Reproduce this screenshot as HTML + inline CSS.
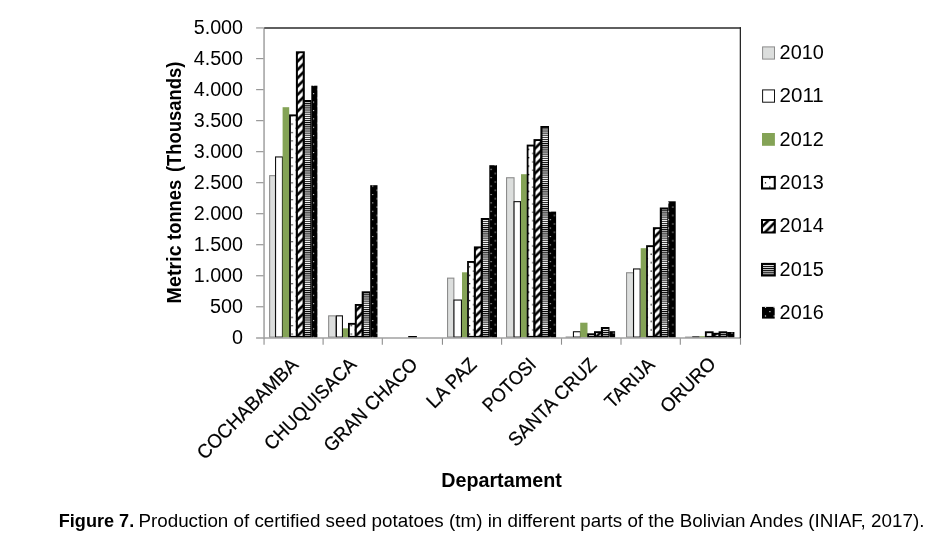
<!DOCTYPE html>
<html lang="en">
<head>
<meta charset="utf-8">
<title>Figure 7. Production of certified seed potatoes</title>
<style>
html,body{margin:0;padding:0;background:#fff;}
body{width:937px;height:536px;overflow:hidden;position:relative;font-family:"Liberation Sans",Arial,sans-serif;}
svg{position:absolute;left:0;top:0;display:block;}
text{font-family:"Liberation Sans",Arial,sans-serif;fill:#000;}
.b{font-weight:bold;fill:#000;}
</style>
</head>
<body>
<svg width="937" height="536" viewBox="0 0 937 536">
<defs>
<pattern id="p13" patternUnits="userSpaceOnUse" x="291.43" y="207.48" width="8.45" height="8.4">
<rect width="8.45" height="8.4" fill="#fff"/>
<rect x="0" y="0" width="1.25" height="1.25" fill="#000"/>
<rect x="4.225" y="4.2" width="1.25" height="1.25" fill="#000"/>
</pattern>
<pattern id="p16" patternUnits="userSpaceOnUse" x="372.28000000000003" y="193.98" width="8.45" height="8.4">
<rect width="8.45" height="8.4" fill="#000"/>
<rect x="0" y="0" width="1.05" height="1.05" fill="#e8e8e8"/>
<rect x="4.225" y="4.2" width="1.05" height="1.05" fill="#e8e8e8"/>
</pattern>
<pattern id="p14" patternUnits="userSpaceOnUse" x="1.21" y="0" width="8.32" height="8.32">
<rect width="8.32" height="8.32" fill="#fff"/>
<path d="M-2.08,2.08 L2.08,-2.08 M-2.08,10.4 L10.4,-2.08 M6.24,10.4 L10.4,6.24" stroke="#000" stroke-width="2.65" fill="none"/>
</pattern>
<pattern id="p15" patternUnits="userSpaceOnUse" x="0" y="0.3" width="8" height="2.1">
<rect width="8" height="2.1" fill="#fff"/>
<rect width="8" height="1.05" fill="#000"/>
</pattern>
<pattern id="p14L" patternUnits="userSpaceOnUse" x="6.1" y="0" width="8.4" height="8.4">
<rect width="8.4" height="8.4" fill="#fff"/>
<path d="M-2.1,2.1 L2.1,-2.1 M-2.1,10.5 L10.5,-2.1 M6.3,10.5 L10.5,6.3" stroke="#000" stroke-width="2.5" fill="none"/>
</pattern>
<pattern id="p15L" patternUnits="userSpaceOnUse" x="0" y="263.92" width="8" height="2.1">
<rect width="8" height="2.1" fill="#fff"/>
<rect width="8" height="1.05" fill="#000"/>
</pattern>
</defs>
<rect width="937" height="536" fill="#fff"/>

<g>
<rect x="269.65" y="175.65" width="5.80" height="161.45" fill="#dcdedd" stroke="#8c8c8c" stroke-width="1.1"/>
<rect x="275.55" y="156.95" width="6.90" height="180.15" fill="#ffffff" stroke="#111" stroke-width="1.1"/>
<rect x="282.60" y="107.20" width="6.60" height="230.30" fill="#84a356"/>
<rect x="289.10" y="114.40" width="8.70" height="223.30" fill="#000"/>
<rect x="290.90" y="116.30" width="4.95" height="219.60" fill="url(#p13)"/>
<rect x="295.90" y="51.30" width="8.90" height="286.40" fill="#000"/>
<rect x="297.90" y="53.20" width="4.85" height="282.70" fill="url(#p14)"/>
<rect x="302.80" y="100.00" width="8.60" height="237.70" fill="#000"/>
<rect x="304.90" y="101.90" width="5.40" height="234.00" fill="url(#p15)"/>
<rect x="311.30" y="85.70" width="6.10" height="251.90" fill="url(#p16)"/>
<rect x="328.65" y="315.85" width="6.90" height="21.25" fill="#dcdedd" stroke="#8c8c8c" stroke-width="1.1"/>
<rect x="336.45" y="315.85" width="6.00" height="21.25" fill="#ffffff" stroke="#111" stroke-width="1.1"/>
<rect x="343.00" y="328.30" width="5.20" height="9.20" fill="#84a356"/>
<rect x="348.00" y="322.90" width="8.70" height="14.80" fill="#000"/>
<rect x="349.80" y="324.80" width="4.95" height="11.10" fill="url(#p13)"/>
<rect x="354.80" y="304.00" width="8.90" height="33.70" fill="#000"/>
<rect x="356.80" y="305.90" width="4.85" height="30.00" fill="url(#p14)"/>
<rect x="361.70" y="291.30" width="8.60" height="46.40" fill="#000"/>
<rect x="363.80" y="293.20" width="5.40" height="42.70" fill="url(#p15)"/>
<rect x="370.20" y="185.20" width="7.30" height="152.40" fill="url(#p16)"/>
<rect x="408.20" y="336.00" width="8.70" height="1.70" fill="#000"/>
<rect x="447.55" y="278.15" width="6.30" height="58.95" fill="#dcdedd" stroke="#8c8c8c" stroke-width="1.1"/>
<rect x="453.95" y="300.05" width="7.50" height="37.05" fill="#ffffff" stroke="#111" stroke-width="1.1"/>
<rect x="462.00" y="272.30" width="5.30" height="65.20" fill="#84a356"/>
<rect x="467.10" y="261.00" width="8.70" height="76.70" fill="#000"/>
<rect x="468.90" y="262.90" width="4.95" height="73.00" fill="url(#p13)"/>
<rect x="473.90" y="246.40" width="8.90" height="91.30" fill="#000"/>
<rect x="475.90" y="248.30" width="4.85" height="87.60" fill="url(#p14)"/>
<rect x="480.80" y="218.00" width="8.60" height="119.70" fill="#000"/>
<rect x="482.90" y="219.90" width="5.40" height="116.00" fill="url(#p15)"/>
<rect x="489.30" y="165.20" width="7.70" height="172.40" fill="url(#p16)"/>
<rect x="506.55" y="177.75" width="7.50" height="159.35" fill="#dcdedd" stroke="#8c8c8c" stroke-width="1.1"/>
<rect x="514.05" y="201.65" width="6.40" height="135.45" fill="#ffffff" stroke="#111" stroke-width="1.1"/>
<rect x="521.00" y="174.20" width="5.90" height="163.30" fill="#84a356"/>
<rect x="526.70" y="144.60" width="8.70" height="193.10" fill="#000"/>
<rect x="528.50" y="146.50" width="4.95" height="189.40" fill="url(#p13)"/>
<rect x="533.50" y="139.10" width="8.90" height="198.60" fill="#000"/>
<rect x="535.50" y="141.00" width="4.85" height="194.90" fill="url(#p14)"/>
<rect x="540.40" y="126.00" width="8.60" height="211.70" fill="#000"/>
<rect x="542.50" y="127.90" width="5.40" height="208.00" fill="url(#p15)"/>
<rect x="548.90" y="211.60" width="7.20" height="126.00" fill="url(#p16)"/>
<rect x="566.15" y="337.05" width="6.80" height="0.20" fill="#dcdedd" stroke="#8c8c8c" stroke-width="1.1"/>
<rect x="573.45" y="331.75" width="7.00" height="5.35" fill="#ffffff" stroke="#111" stroke-width="1.1"/>
<rect x="580.20" y="322.70" width="7.30" height="14.80" fill="#84a356"/>
<rect x="587.20" y="333.30" width="8.70" height="4.40" fill="#000"/>
<rect x="589.00" y="335.20" width="4.95" height="0.70" fill="url(#p13)"/>
<rect x="594.00" y="331.20" width="8.90" height="6.50" fill="#000"/>
<rect x="596.00" y="333.10" width="4.85" height="2.80" fill="url(#p14)"/>
<rect x="600.90" y="327.00" width="8.60" height="10.70" fill="#000"/>
<rect x="603.00" y="328.90" width="5.40" height="7.00" fill="url(#p15)"/>
<rect x="609.40" y="331.20" width="5.70" height="6.40" fill="url(#p16)"/>
<rect x="626.55" y="272.75" width="6.90" height="64.35" fill="#dcdedd" stroke="#8c8c8c" stroke-width="1.1"/>
<rect x="633.55" y="268.95" width="6.60" height="68.15" fill="#ffffff" stroke="#111" stroke-width="1.1"/>
<rect x="640.70" y="248.20" width="5.60" height="89.30" fill="#84a356"/>
<rect x="646.10" y="245.20" width="8.70" height="92.50" fill="#000"/>
<rect x="647.90" y="247.10" width="4.95" height="88.80" fill="url(#p13)"/>
<rect x="652.90" y="227.20" width="8.90" height="110.50" fill="#000"/>
<rect x="654.90" y="229.10" width="4.85" height="106.80" fill="url(#p14)"/>
<rect x="659.80" y="207.50" width="8.60" height="130.20" fill="#000"/>
<rect x="661.90" y="209.40" width="5.40" height="126.50" fill="url(#p15)"/>
<rect x="668.30" y="201.30" width="7.40" height="136.30" fill="url(#p16)"/>
<rect x="685.65" y="337.15" width="6.00" height="0.20" fill="#dcdedd" stroke="#8c8c8c" stroke-width="1.1"/>
<rect x="692.75" y="336.85" width="6.40" height="0.25" fill="#ffffff" stroke="#111" stroke-width="1.1"/>
<rect x="699.70" y="336.20" width="5.30" height="1.30" fill="#84a356"/>
<rect x="704.90" y="331.30" width="8.70" height="6.40" fill="#000"/>
<rect x="706.70" y="333.20" width="4.95" height="2.70" fill="url(#p13)"/>
<rect x="711.70" y="332.80" width="8.90" height="4.90" fill="#000"/>
<rect x="713.70" y="334.70" width="4.85" height="1.20" fill="url(#p14)"/>
<rect x="718.60" y="331.30" width="8.60" height="6.40" fill="#000"/>
<rect x="720.70" y="333.20" width="5.40" height="2.70" fill="url(#p15)"/>
<rect x="727.10" y="332.00" width="7.30" height="5.60" fill="url(#p16)"/>
</g>
<g stroke="#a0a0a0" stroke-width="1.5" fill="none">
<line x1="264.05" y1="27.6" x2="264.05" y2="338.5"/>
<line x1="256.1" y1="337.90000000000003" x2="740.4" y2="337.90000000000003"/>
</g>
<g stroke="#8e8e8e" stroke-width="1.1" fill="none">
<line x1="256.1" y1="27.95" x2="263.5" y2="27.95"/>
<line x1="256.1" y1="58.62" x2="263.5" y2="58.62"/>
<line x1="256.1" y1="89.64" x2="263.5" y2="89.64"/>
<line x1="256.1" y1="120.66" x2="263.5" y2="120.66"/>
<line x1="256.1" y1="151.68" x2="263.5" y2="151.68"/>
<line x1="256.1" y1="182.70" x2="263.5" y2="182.70"/>
<line x1="256.1" y1="213.72" x2="263.5" y2="213.72"/>
<line x1="256.1" y1="244.74" x2="263.5" y2="244.74"/>
<line x1="256.1" y1="275.76" x2="263.5" y2="275.76"/>
<line x1="256.1" y1="306.78" x2="263.5" y2="306.78"/>
<line x1="264.05" y1="338.3" x2="264.05" y2="344.7"/>
<line x1="323.10" y1="338.3" x2="323.10" y2="344.7"/>
<line x1="382.30" y1="338.3" x2="382.30" y2="344.7"/>
<line x1="442.45" y1="338.3" x2="442.45" y2="344.7"/>
<line x1="501.60" y1="338.3" x2="501.60" y2="344.7"/>
<line x1="561.50" y1="338.3" x2="561.50" y2="344.7"/>
<line x1="621.00" y1="338.3" x2="621.00" y2="344.7"/>
<line x1="680.30" y1="338.3" x2="680.30" y2="344.7"/>
<line x1="740.50" y1="338.3" x2="740.50" y2="344.7"/>
</g>
<line x1="264.3" y1="27.95" x2="741.0" y2="27.95" stroke="#2a2a2a" stroke-width="1.35"/>
<line x1="740.35" y1="27.3" x2="740.35" y2="338.2" stroke="#222" stroke-width="1.25"/>
<g font-size="19.6" text-anchor="end">
<text x="243.1" y="33.70" textLength="49.4" lengthAdjust="spacingAndGlyphs">5.000</text>
<text x="243.1" y="64.72" textLength="49.4" lengthAdjust="spacingAndGlyphs">4.500</text>
<text x="243.1" y="95.74" textLength="49.4" lengthAdjust="spacingAndGlyphs">4.000</text>
<text x="243.1" y="126.76" textLength="49.4" lengthAdjust="spacingAndGlyphs">3.500</text>
<text x="243.1" y="157.78" textLength="49.4" lengthAdjust="spacingAndGlyphs">3.000</text>
<text x="243.1" y="188.80" textLength="49.4" lengthAdjust="spacingAndGlyphs">2.500</text>
<text x="243.1" y="219.82" textLength="49.4" lengthAdjust="spacingAndGlyphs">2.000</text>
<text x="243.1" y="250.84" textLength="49.4" lengthAdjust="spacingAndGlyphs">1.500</text>
<text x="243.1" y="281.86" textLength="49.4" lengthAdjust="spacingAndGlyphs">1.000</text>
<text x="243.1" y="312.88" textLength="33.0" lengthAdjust="spacingAndGlyphs">500</text>
<text x="243.1" y="343.90" textLength="11.0" lengthAdjust="spacingAndGlyphs">0</text>
</g>
<g class="b" font-size="19.8" font-weight="bold" transform="translate(180.5 302.4) rotate(-90)">
<text class="b" x="-1.0" y="0" textLength="58.0" lengthAdjust="spacingAndGlyphs">Metric</text>
<text class="b" x="62.5" y="0" textLength="60.0" lengthAdjust="spacingAndGlyphs">tonnes</text>
<text class="b" x="130.3" y="0" textLength="110.5" lengthAdjust="spacingAndGlyphs">(Thousands)</text>
</g>
<g class="cl" font-size="19.4" text-anchor="end" stroke="#000" stroke-width="0.22">
<text transform="translate(299.26 365.80) rotate(-45)" textLength="133.8" lengthAdjust="spacingAndGlyphs">COCHABAMBA</text>
<text transform="translate(357.48 365.80) rotate(-45)" textLength="120.8" lengthAdjust="spacingAndGlyphs">CHUQUISACA</text>
<text transform="translate(418.80 365.80) rotate(-45)" textLength="123.4" lengthAdjust="spacingAndGlyphs">GRAN CHACO</text>
<text transform="translate(477.82 365.80) rotate(-45)" textLength="61.5" lengthAdjust="spacingAndGlyphs">LA PAZ</text>
<text transform="translate(537.34 365.80) rotate(-45)" textLength="66.6" lengthAdjust="spacingAndGlyphs">POTOSI</text>
<text transform="translate(597.76 365.80) rotate(-45)" textLength="115.7" lengthAdjust="spacingAndGlyphs">SANTA CRUZ</text>
<text transform="translate(655.88 365.80) rotate(-45)" textLength="61.4" lengthAdjust="spacingAndGlyphs">TARIJA</text>
<text transform="translate(717.10 365.00) rotate(-45)" textLength="69.3" lengthAdjust="spacingAndGlyphs">ORURO</text>
</g>
<text class="b" font-size="19.8" text-anchor="middle" x="501.5" y="486.8" textLength="120.6" lengthAdjust="spacingAndGlyphs">Departament</text>
<g font-size="19.6">
<rect x="762.60" y="46.90" width="11.90" height="12.20" fill="#dcdedd" stroke="#8c8c8c" stroke-width="1.0"/>
<text x="779.6" y="59.05" textLength="44.2" lengthAdjust="spacingAndGlyphs">2010</text>
<rect x="762.60" y="89.90" width="11.90" height="12.30" fill="#ffffff" stroke="#111" stroke-width="1.0"/>
<text x="779.6" y="102.35" textLength="44.2" lengthAdjust="spacingAndGlyphs">2011</text>
<rect x="762.00" y="133.00" width="12.90" height="12.80" fill="#84a356"/>
<text x="779.6" y="145.65" textLength="44.2" lengthAdjust="spacingAndGlyphs">2012</text>
<rect x="762.02" y="176.93" width="12.75" height="11.55" fill="#ffffff" stroke="#000" stroke-width="2.05"/>
<rect x="764.90" y="182.20" width="1.2" height="1.2" fill="#000"/>
<rect x="769.20" y="178.00" width="1.2" height="1.2" fill="#000"/>
<rect x="769.20" y="186.40" width="1.2" height="1.2" fill="#000"/>
<text x="779.6" y="188.95" textLength="44.2" lengthAdjust="spacingAndGlyphs">2013</text>
<rect x="762.00" y="220.00" width="12.80" height="12.50" fill="url(#p14L)" stroke="#000" stroke-width="2.0"/>
<text x="779.6" y="232.25" textLength="44.2" lengthAdjust="spacingAndGlyphs">2014</text>
<rect x="762.00" y="263.90" width="12.80" height="11.60" fill="url(#p15L)" stroke="#000" stroke-width="2.0"/>
<text x="779.6" y="275.55" textLength="44.2" lengthAdjust="spacingAndGlyphs">2015</text>
<rect x="762.00" y="306.90" width="12.70" height="11.70" fill="#000000"/>
<rect x="764.90" y="306.70" width="1.2" height="1.2" fill="#e0e0e0"/>
<rect x="769.30" y="311.00" width="1.2" height="1.2" fill="#e0e0e0"/>
<rect x="764.90" y="315.40" width="1.2" height="1.2" fill="#e0e0e0"/>
<rect x="773.60" y="315.40" width="1.2" height="1.2" fill="#e0e0e0"/>
<rect x="773.60" y="306.90" width="1.2" height="1.2" fill="#e0e0e0"/>
<text x="779.6" y="318.85" textLength="44.2" lengthAdjust="spacingAndGlyphs">2016</text>
</g>
<text x="58.8" y="527" font-size="18.2" font-weight="bold" textLength="75.4" lengthAdjust="spacingAndGlyphs" style="fill:#000">Figure 7.</text>
<text x="138.4" y="527" font-size="18.2" textLength="786" lengthAdjust="spacingAndGlyphs" style="fill:#000">Production of certified seed potatoes (tm) in different parts of the Bolivian Andes (INIAF, 2017).</text>
</svg>
</body>
</html>
